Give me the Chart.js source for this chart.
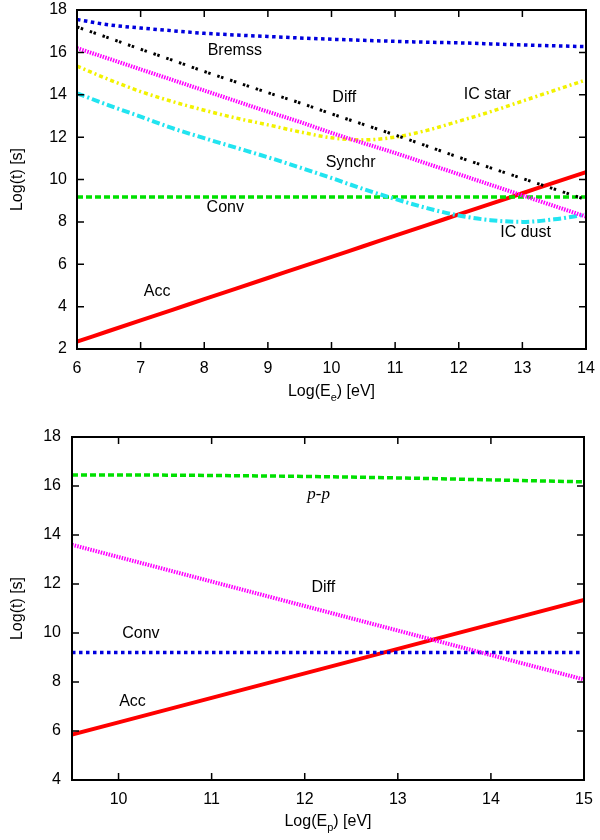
<!DOCTYPE html>
<html>
<head>
<meta charset="utf-8">
<script src="https://cdn.jsdelivr.net/npm/chart.js@4/dist/chart.umd.min.js"></script>
<style>
  html, body { margin: 0; padding: 0; background: #fff; }
  canvas { display: block; }
</style>
</head>
<body>
<canvas id="electrons" width="600" height="420"></canvas>
<canvas id="protons" width="600" height="420"></canvas>
<script>
// electrons, Log(E_e) in eV
const eGrid = [6, 6.5, 7, 7.5, 8, 8.5, 9, 9.5, 10, 10.5, 11, 11.5, 12, 12.5, 13, 13.5, 14];
const eBremss = [17.55, 17.3, 17.15, 17.02, 16.9, 16.82, 16.75, 16.68, 16.62, 16.57, 16.52, 16.48, 16.45, 16.4, 16.35, 16.31, 16.27];
const eDiff   = [17.2, 16.68, 16.15, 15.63, 15.1, 14.6, 14.1, 13.62, 13.1, 12.6, 12.1, 11.58, 11.05, 10.55, 10.05, 9.55, 9.05];
const eSynchr = [16.2, 15.7, 15.2, 14.7, 14.2, 13.7, 13.2, 12.72, 12.2, 11.72, 11.25, 10.75, 10.25, 9.75, 9.25, 8.75, 8.25];
const eICstar = [15.35, 14.72, 14.15, 13.68, 13.27, 12.9, 12.58, 12.25, 11.97, 11.87, 12.0, 12.32, 12.75, 13.2, 13.7, 14.2, 14.7];
const eICdust = [14.07, 13.5, 12.97, 12.42, 11.95, 11.5, 11.05, 10.57, 10.07, 9.55, 9.08, 8.65, 8.3, 8.08, 8.0, 8.12, 8.35];
const eConv   = [9.17, 9.17, 9.17, 9.17, 9.17, 9.17, 9.17, 9.17, 9.17, 9.17, 9.17, 9.17, 9.17, 9.17, 9.17, 9.17, 9.17];
const eAcc    = [2.35, 2.85, 3.35, 3.85, 4.35, 4.85, 5.35, 5.85, 6.35, 6.85, 7.35, 7.85, 8.35, 8.85, 9.35, 9.85, 10.35];

// protons, Log(E_p) in eV
const pGrid = [9.5, 10, 11, 12, 13, 14, 15];
const pPP   = [16.45, 16.45, 16.43, 16.39, 16.33, 16.25, 16.17];
const pDiff = [13.6, 13.1, 12.1, 11.1, 10.1, 9.1, 8.1];
const pConv = [9.2, 9.2, 9.2, 9.2, 9.2, 9.2, 9.2];
const pAcc  = [5.85, 6.35, 7.35, 8.35, 9.35, 10.35, 11.35];

const eLabels = [
  { text: 'Bremss', x: 8.48, y: 16.1 },
  { text: 'Diff', x: 10.2, y: 13.85 },
  { text: 'IC star', x: 12.45, y: 14.0 },
  { text: 'Synchr', x: 10.3, y: 10.8 },
  { text: 'Conv', x: 8.33, y: 8.66 },
  { text: 'IC dust', x: 13.05, y: 7.5 },
  { text: 'Acc', x: 7.26, y: 4.7 },
];
const pLabels = [
  { text: 'p-p', x: 12.15, y: 15.67, italic: true },
  { text: 'Diff', x: 12.2, y: 11.84 },
  { text: 'Conv', x: 10.24, y: 9.96 },
  { text: 'Acc', x: 10.15, y: 7.18 },
];

const FONT = "'Liberation Sans', Arial, sans-serif";
const FS = 16;

function pts(xs, ys) { return xs.map((x, i) => ({ x, y: ys[i] })); }

function line(data, color, width, dash) {
  return {
    data, borderColor: color, borderWidth: width, borderDash: dash || [],
    pointRadius: 0, fill: false, cubicInterpolationMode: 'monotone', borderCapStyle: 'butt',
  };
}

// frame, inward ticks, curve labels and axis titles
const decor = {
  id: 'decor',
  afterDraw(chart, args, opts) {
    const { ctx, chartArea: a, scales: { x, y } } = chart;
    ctx.save();
    ctx.strokeStyle = '#000';
    ctx.lineWidth = 1.5;
    ctx.beginPath();
    for (const t of x.ticks) {
      const px = x.getPixelForValue(t.value);
      if (px <= a.left + 1 || px >= a.right - 1) continue;
      ctx.moveTo(px, a.bottom); ctx.lineTo(px, a.bottom - 7);
      ctx.moveTo(px, a.top); ctx.lineTo(px, a.top + 7);
    }
    for (const t of y.ticks) {
      const py = y.getPixelForValue(t.value);
      if (py <= a.top + 1 || py >= a.bottom - 1) continue;
      ctx.moveTo(a.left, py); ctx.lineTo(a.left + 7, py);
      ctx.moveTo(a.right, py); ctx.lineTo(a.right - 7, py);
    }
    ctx.stroke();
    ctx.lineWidth = 2;
    ctx.strokeRect(a.left, a.top, a.right - a.left, a.bottom - a.top);

    ctx.fillStyle = '#000';
    ctx.textAlign = 'center';
    ctx.textBaseline = 'middle';
    for (const l of opts.labels) {
      ctx.font = l.italic ? "italic 17px 'Liberation Serif', serif" : FS + 'px ' + FONT;
      ctx.fillText(l.text, x.getPixelForValue(l.x), y.getPixelForValue(l.y));
    }

    // x title with subscript
    const big = FS + 'px ' + FONT, small = '11px ' + FONT;
    ctx.font = big;
    const pre = 'Log(E', sub = opts.sub, post = ') [eV]';
    const wPre = ctx.measureText(pre).width, wPost = ctx.measureText(post).width;
    ctx.font = small;
    const wSub = ctx.measureText(sub).width;
    const cx = (a.left + a.right) / 2 - (wPre + wSub + wPost) / 2;
    ctx.textAlign = 'left';
    ctx.font = big;
    ctx.fillText(pre, cx, opts.titleY);
    ctx.font = small;
    ctx.fillText(sub, cx + wPre, opts.titleY + 6);
    ctx.font = big;
    ctx.fillText(post, cx + wPre + wSub, opts.titleY);

    ctx.translate(18, (a.top + a.bottom) / 2);
    ctx.rotate(-Math.PI / 2);
    ctx.textAlign = 'center';
    ctx.fillText('Log(t) [s]', 0, 0);
    ctx.restore();
  }
};

function makeChart(id, datasets, cfg) {
  return new Chart(document.getElementById(id), {
    type: 'line',
    data: { datasets },
    plugins: [decor],
    options: {
      responsive: false, animation: false, devicePixelRatio: 1,
      layout: { padding: cfg.padding },
      plugins: { legend: { display: false }, tooltip: { enabled: false }, decor: cfg.decor },
      scales: {
        x: {
          type: 'linear', min: cfg.xMin, max: cfg.xMax,
          ticks: { stepSize: 1, padding: 10, color: '#000', font: { family: FONT, size: FS } },
          grid: { display: false, drawTicks: false }, border: { display: false },
          afterBuildTicks: s => { s.ticks = s.ticks.filter(t => Number.isInteger(t.value)); },
          afterFit: s => { s.height = cfg.xHeight; s.paddingLeft = 0; s.paddingRight = 0; },
        },
        y: {
          min: cfg.yMin, max: 18,
          ticks: { stepSize: 2, padding: cfg.yPad, color: '#000', font: { family: FONT, size: FS } },
          grid: { display: false, drawTicks: false }, border: { display: false },
          afterFit: s => { s.width = cfg.yWidth; s.paddingTop = 0; s.paddingBottom = 0; },
        },
      },
    },
  });
}

makeChart('electrons', [
  line(pts(eGrid, eBremss), '#0000dd', 3.5, [3.5, 3.5]),
  line(pts(eGrid, eDiff), '#000000', 3, [2.5, 1.5, 2.5, 7]),
  line(pts(eGrid, eSynchr), '#ff00ff', 4, [1.5, 1.2]),
  line(pts(eGrid, eICstar), '#f2f200', 3.5, [4, 3, 2, 3]),
  line(pts(eGrid, eICdust), '#22e4f0', 4, [8, 3, 2, 3]),
  line(pts(eGrid, eConv), '#00e000', 3.5, [6, 3]),
  line(pts(eGrid, eAcc), '#ff0000', 4),
], {
  xMin: 6, xMax: 14, yMin: 2, yWidth: 77, xHeight: 71, yPad: 10,
  padding: { top: 10, right: 14, left: 0, bottom: 0 },
  decor: { labels: eLabels, sub: 'e', titleY: 392 },
});

makeChart('protons', [
  line(pts(pGrid, pPP), '#00e000', 3.5, [6, 3]),
  line(pts(pGrid, pDiff), '#ff00ff', 4, [1.5, 1.2]),
  line(pts(pGrid, pConv), '#0000dd', 3.5, [3.5, 3.5]),
  line(pts(pGrid, pAcc), '#ff0000', 4),
], {
  xMin: 9.5, xMax: 15, yMin: 4, yWidth: 72, xHeight: 60, yPad: 11,
  padding: { top: 17, right: 16, left: 0, bottom: 0 },
  decor: { labels: pLabels, sub: 'p', titleY: 402 },
});
</script>
</body>
</html>
